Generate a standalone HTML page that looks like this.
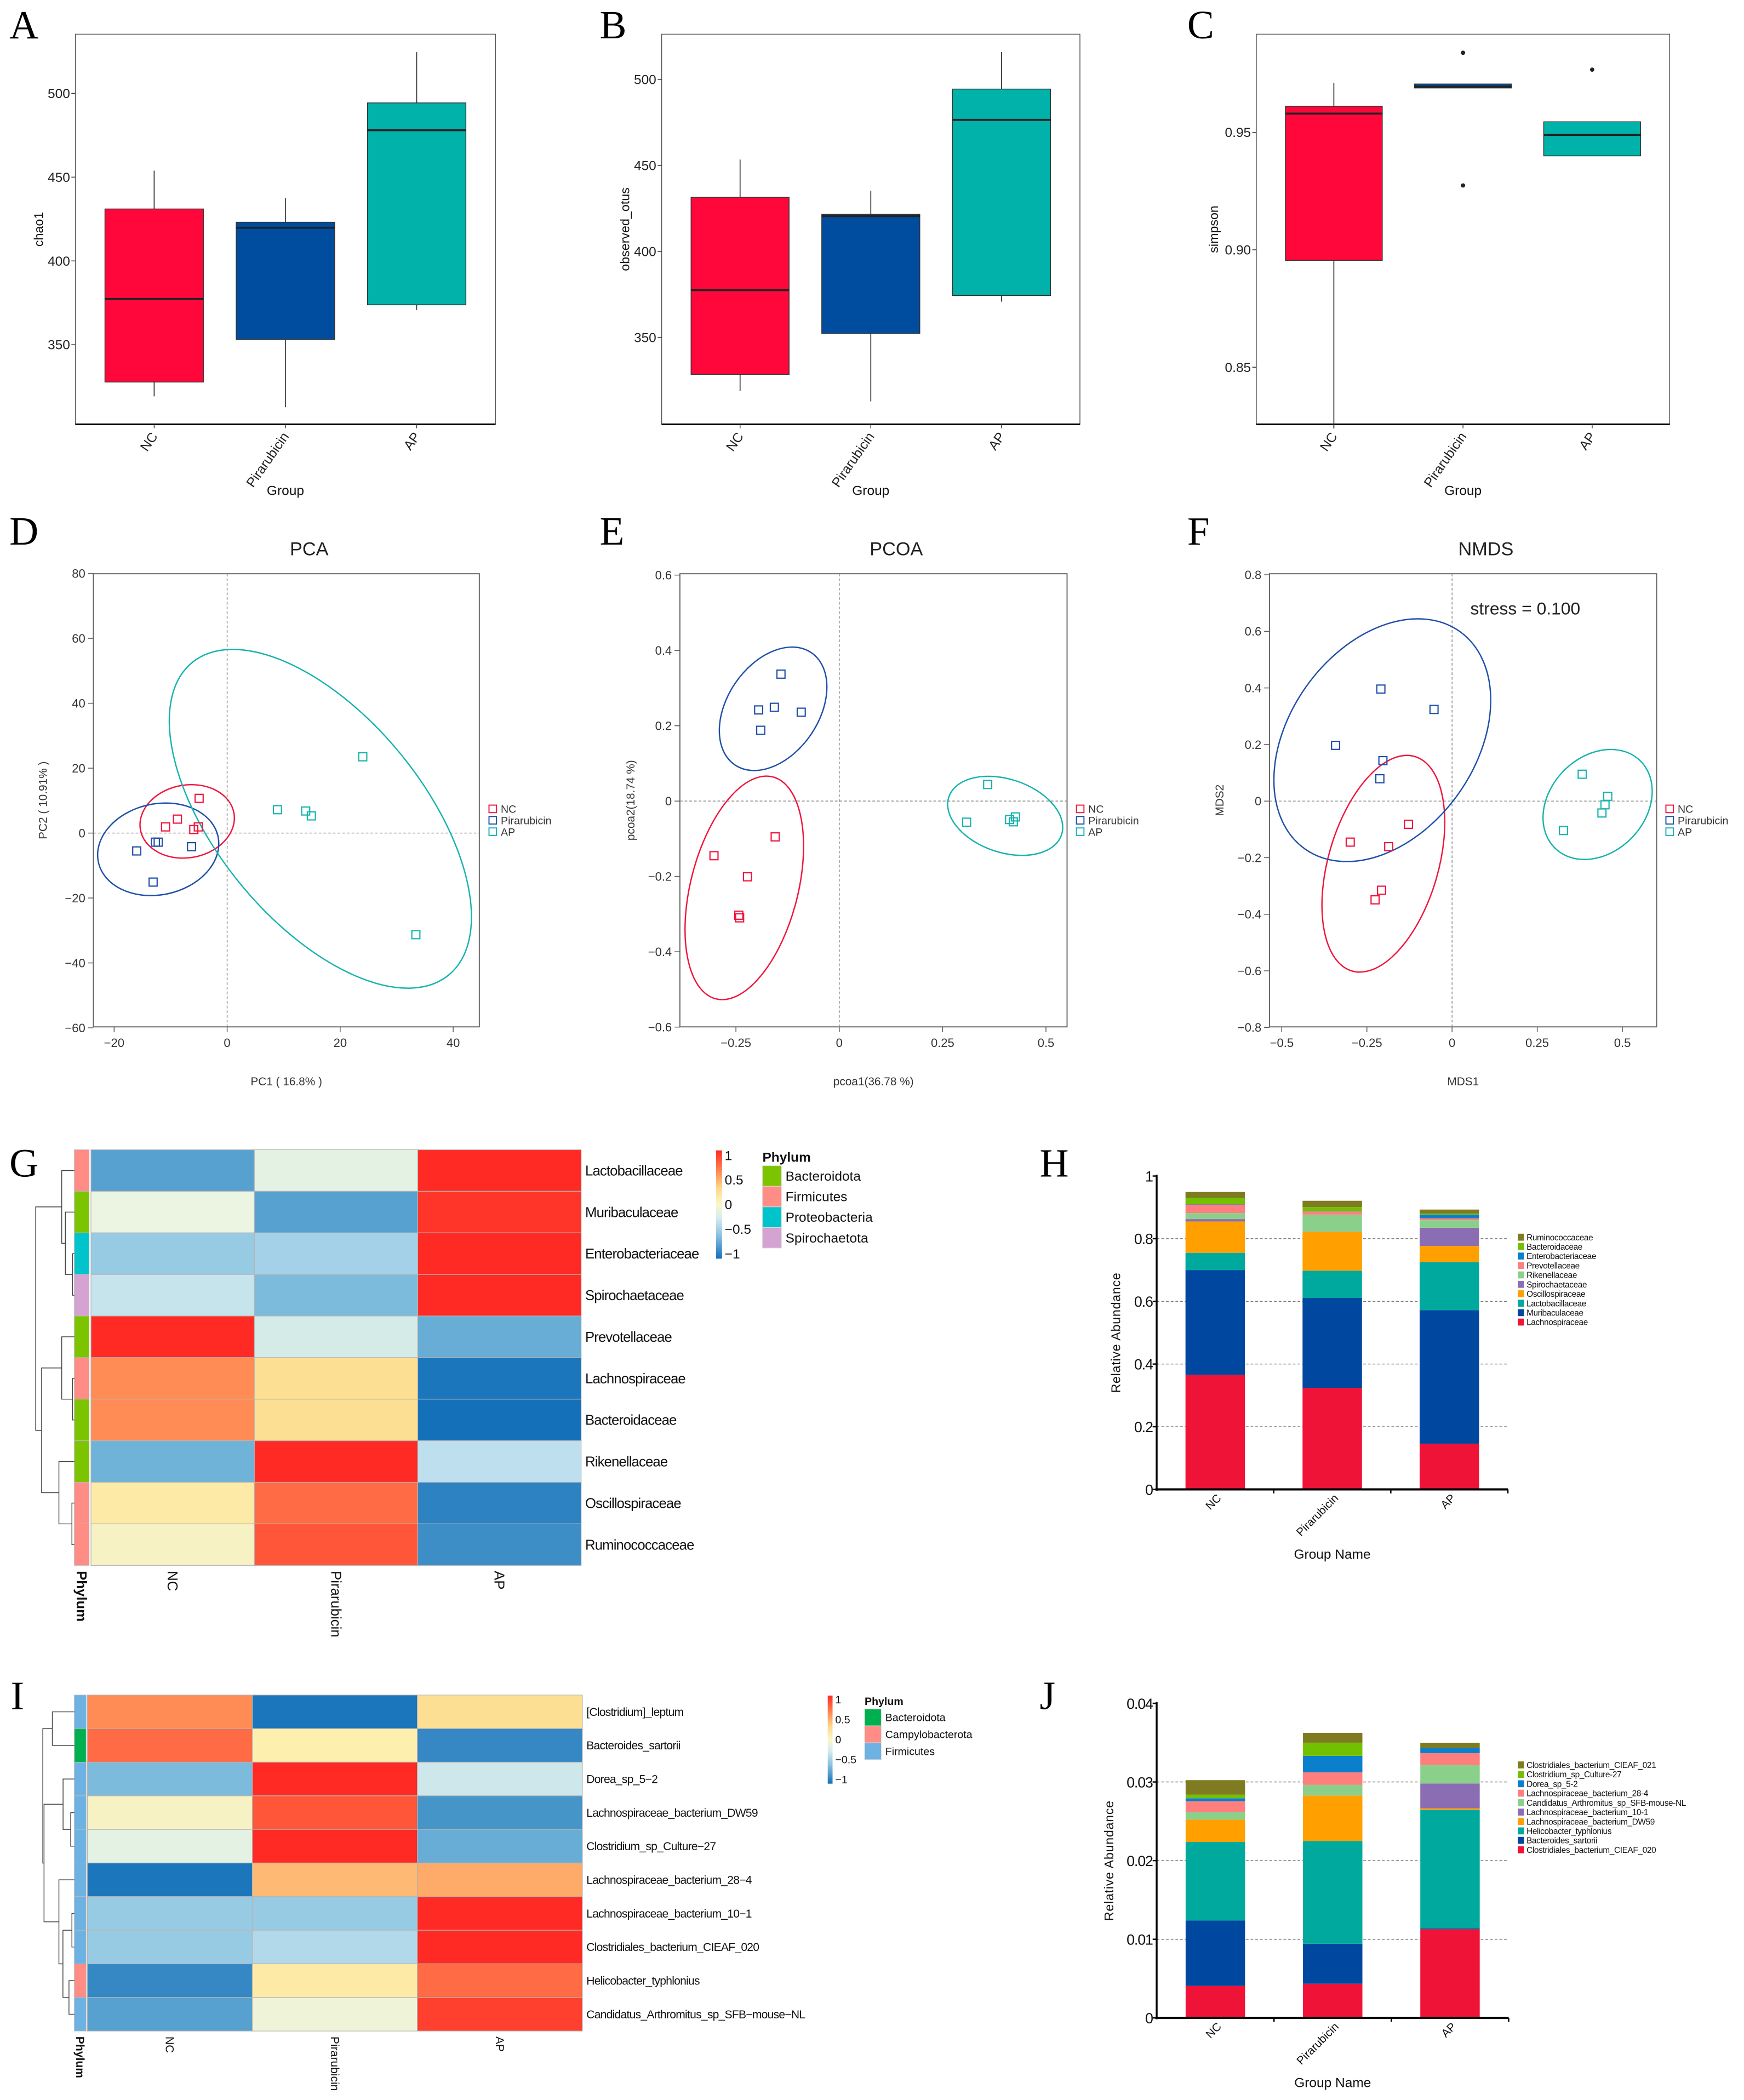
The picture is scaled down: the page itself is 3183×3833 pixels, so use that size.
<!DOCTYPE html>
<html><head><meta charset="utf-8"><title>Figure</title>
<style>
html,body{margin:0;padding:0;background:#fff;}
svg{display:block;font-family:"Liberation Sans",Arial,sans-serif;}
</style></head>
<body>
<svg id="fig" xmlns="http://www.w3.org/2000/svg" width="3183" height="3833" viewBox="0 0 1300 1565.5">
<defs>
<linearGradient id="cbar" x1="0" y1="0" x2="0" y2="1">
<stop offset="0" stop-color="#ff2a24"/><stop offset="0.2" stop-color="#ff8c55"/><stop offset="0.35" stop-color="#fdd98a"/><stop offset="0.5" stop-color="#fbf7c8"/><stop offset="0.62" stop-color="#d8edf0"/><stop offset="0.78" stop-color="#8cc4e0"/><stop offset="1" stop-color="#1470b8"/>
</linearGradient>
</defs>
<rect x="0" y="0" width="1300" height="1565.5" fill="#fff"/>
</svg>
<script>
// ---------------- DATA ----------------
const groups = ['NC','Pirarubicin','AP'];
// A: chao1
const chaoQ1 = [327.7, 353.1, 373.8];
const chaoMed = [377.3, 419.8, 478.0];
const chaoQ3 = [431.0, 423.1, 494.3];
const chaoLo = [319.2, 312.7, 370.7];
const chaoHi = [453.9, 437.4, 524.6];
const chaoTicks = [350, 400, 450, 500];
// B: observed_otus
const otuQ1 = [328.5, 352.3, 374.4];
const otuMed = [377.5, 420.5, 476.5];
const otuQ3 = [431.5, 421.6, 494.4];
const otuLo = [318.8, 312.8, 370.8];
const otuHi = [453.4, 435.3, 516.0];
const otuTicks = [350, 400, 450, 500];
// C: simpson
const simQ1 = [0.8955, 0.9689, 0.9400];
const simMed = [0.9580, 0.9695, 0.9489];
const simQ3 = [0.9611, 0.9706, 0.9545];
const simLo = [0.8239, 0.9689, 0.9400];
const simHi = [0.9711, 0.9706, 0.9545];
const simOutliers = [[], [0.9839, 0.9274], [0.9767]];
const simTicks = [0.85, 0.90, 0.95];

// D: PCA
const pcaNCx = [-4.96, -8.8, -10.9, -5.9, -5.1];
const pcaNCy = [10.7, 4.3, 1.9, 1.1, 1.9];
const pcaPirx = [-16.0, -13.1, -12.7, -12.2, -6.3];
const pcaPiry = [-5.5, -15.1, -2.8, -2.8, -4.2];
const pcaAPx = [24.0, 8.9, 13.9, 14.9, 33.4];
const pcaAPy = [23.5, 7.2, 6.8, 5.3, -31.3];
const pcaXTicks = [-20, 0, 20, 40];
const pcaYTicks = [-60, -40, -20, 0, 20, 40, 60, 80];
const pcaEllCx = [-7.07, -12.2, 16.5];
const pcaEllCy = [3.6, -5.0, 4.4];
// E: PCoA
const pcoNCx = [-0.155, -0.303, -0.222, -0.243, -0.241];
const pcoNCy = [-0.095, -0.145, -0.201, -0.303, -0.310];
const pcoPirx = [-0.141, -0.195, -0.157, -0.092, -0.190];
const pcoPiry = [0.337, 0.242, 0.249, 0.236, 0.188];
const pcoAPx = [0.359, 0.308, 0.412, 0.426, 0.421];
const pcoAPy = [0.044, -0.056, -0.049, -0.042, -0.055];
const pcoXTicks = [-0.25, 0, 0.25, 0.5];
const pcoYTicks = [-0.6, -0.4, -0.2, 0, 0.2, 0.4, 0.6];
const pcoEllCx = [-0.2297, -0.160, 0.4014];
const pcoEllCy = [-0.2304, 0.245, -0.0392];
// F: NMDS
const nmNCx = [-0.128, -0.299, -0.186, -0.207, -0.226];
const nmNCy = [-0.082, -0.145, -0.161, -0.315, -0.349];
const nmPirx = [-0.209, -0.053, -0.342, -0.203, -0.212];
const nmPiry = [0.396, 0.324, 0.197, 0.143, 0.079];
const nmAPx = [0.382, 0.457, 0.449, 0.440, 0.327];
const nmAPy = [0.095, 0.017, -0.013, -0.042, -0.104];
const nmXTicks = [-0.5, -0.25, 0, 0.25, 0.5];
const nmYTicks = [-0.8, -0.6, -0.4, -0.2, 0, 0.2, 0.4, 0.6, 0.8];
const nmEllCx = [-0.2017, -0.2048, 0.4273];
const nmEllCy = [-0.2214, 0.2153, -0.0119];

// G heatmap
const gRows = ['Lactobacillaceae','Muribaculaceae','Enterobacteriaceae','Spirochaetaceae','Prevotellaceae','Lachnospiraceae','Bacteroidaceae','Rikenellaceae','Oscillospiraceae','Ruminococcaceae'];
const gPhylum = ['Firmicutes','Bacteroidota','Proteobacteria','Spirochaetota','Bacteroidota','Firmicutes','Bacteroidota','Bacteroidota','Firmicutes','Firmicutes'];
const gNC  = [-0.75, 0.0, -0.45, -0.25, 1.15, 0.7, 0.7, -0.6, 0.3, 0.15];
const gPir = [-0.05, -0.75, -0.4, -0.55, -0.15, 0.4, 0.4, 1.15, 0.85, 0.95];
const gAP  = [1.15, 1.1, 1.15, 1.15, -0.65, -1.1, -1.15, -0.3, -1.0, -0.9];
const gPhylaLegend = ['Bacteroidota','Firmicutes','Proteobacteria','Spirochaetota'];
// I heatmap
const iRows = ['[Clostridium]_leptum','Bacteroides_sartorii','Dorea_sp_5\u22122','Lachnospiraceae_bacterium_DW59','Clostridium_sp_Culture\u221227','Lachnospiraceae_bacterium_28\u22124','Lachnospiraceae_bacterium_10\u22121','Clostridiales_bacterium_CIEAF_020','Helicobacter_typhlonius','Candidatus_Arthromitus_sp_SFB\u2212mouse\u2212NL'];
const iPhylum = ['Firmicutes','Bacteroidota','Firmicutes','Firmicutes','Firmicutes','Firmicutes','Firmicutes','Firmicutes','Campylobacterota','Firmicutes'];
const iNC  = [0.7, 0.85, -0.55, 0.15, -0.05, -1.1, -0.45, -0.45, -0.95, -0.75];
const iPir = [-1.1, 0.25, 1.15, 0.95, 1.15, 0.55, -0.45, -0.35, 0.3, 0.05];
const iAP  = [0.4, -0.95, -0.2, -0.85, -0.65, 0.6, 1.15, 1.15, 0.85, 1.05];
const iPhylaLegend = ['Bacteroidota','Campylobacterota','Firmicutes'];
const heatTickLabels = ['1','0.5','0','\u22120.5','\u22121'];
const heatTickValues = [1, 0.5, 0, -0.5, -1];

// H stacked bars (bottom -> top)
const hSeries = ['Lachnospiraceae','Muribaculaceae','Lactobacillaceae','Oscillospiraceae','Spirochaetaceae','Rikenellaceae','Prevotellaceae','Enterobacteriaceae','Bacteroidaceae','Ruminococcaceae'];
const hLachno = [0.365, 0.324, 0.146];
const hMurib = [0.335, 0.287, 0.426];
const hLacto = [0.055, 0.087, 0.153];
const hOscillo = [0.100, 0.124, 0.052];
const hSpiro = [0.0076, 0.001, 0.058];
const hRiken = [0.019, 0.054, 0.024];
const hPrevo = [0.0275, 0.010, 0.006];
const hEntero = [0.001, 0.001, 0.012];
const hBacteroid = [0.020, 0.013, 0.003];
const hRumino = [0.019, 0.020, 0.013];
const hTicks = [0, 0.2, 0.4, 0.6, 0.8, 1];
const hTickLabels = ['0','0.2','0.4','0.6','0.8','1'];
// J stacked bars (bottom -> top)
const jSeries = ['Clostridiales_bacterium_CIEAF_020','Bacteroides_sartorii','Helicobacter_typhlonius','Lachnospiraceae_bacterium_DW59','Lachnospiraceae_bacterium_10-1','Candidatus_Arthromitus_sp_SFB-mouse-NL','Lachnospiraceae_bacterium_28-4','Dorea_sp_5-2','Clostridium_sp_Culture-27','Clostridiales_bacterium_CIEAF_021'];
const j020 = [0.00407, 0.00435, 0.01127];
const jSart = [0.00831, 0.00508, 0.00010];
const jHelico = [0.00999, 0.01307, 0.01506];
const jDW59 = [0.00285, 0.00578, 0.00021];
const j101 = [0.0, 0.0, 0.00317];
const jCand = [0.00094, 0.00135, 0.00233];
const j284 = [0.00139, 0.00160, 0.00153];
const jDorea = [0.00038, 0.00209, 0.00066];
const jCult = [0.00045, 0.00167, 0.0];
const j021 = [0.00185, 0.00125, 0.00066];
const jTicks = [0, 0.01, 0.02, 0.03, 0.04];
const jTickLabels = ['0','0.01','0.02','0.03','0.04'];

// ---------------- HELPERS ----------------
const NS = 'http://www.w3.org/2000/svg';
const svg = document.getElementById('fig');
function mk(tag, attrs, parent) {
  const e = document.createElementNS(NS, tag);
  for (const k in attrs) e.setAttribute(k, attrs[k]);
  (parent || svg).appendChild(e);
  return e;
}
function txt(s, attrs, parent) { const e = mk('text', attrs, parent); e.textContent = s; return e; }
function lin(d0, d1, r0, r1) { return v => r0 + (v - d0) * (r1 - r0) / (d1 - d0); }
const grpColor = ['#FF073A', '#004DA0', '#00B2AA'];
const ptColor = ['#F0143C', '#1F4FA8', '#16B3AE'];
function fmtMinus(v) { return (v < 0 ? '\u2212' : '') + Math.abs(v); }

// ---------------- PANEL LETTERS ----------------
const letters = [['A',7,28.5],['B',447,28.5],['C',885,28.5],['D',7,406],['E',447,406],['F',885,406],['G',7,877],['H',775,877],['I',8,1274],['J',775,1274]];
letters.forEach(l => {
  const t = txt(l[0], {x:l[1], y:l[2], 'font-family':'"Liberation Serif",serif', 'font-size':30, fill:'#000'});
  
  
});

// ---------------- BOX PLOTS ----------------
function boxPanel(cfg) {
  const g = mk('g', {});
  
  
  const W = cfg.x1 - cfg.x0;
  const y = lin(cfg.dom[0], cfg.dom[1], cfg.y1, cfg.y0);
  const fr = mk('rect', {x:cfg.x0, y:cfg.y0, width:W, height:cfg.y1-cfg.y0, fill:'none', stroke:'#555', 'stroke-width':0.6}, g);
  
  
  const ax = mk('line', {x1:cfg.x0, x2:cfg.x1, y1:cfg.y1, y2:cfg.y1, stroke:'#000', 'stroke-width':1.2}, g);
  
  
  cfg.ticks.forEach(v => {
    const tk = mk('line', {x1:cfg.x0-3, x2:cfg.x0, y1:y(v), y2:y(v), stroke:'#333', 'stroke-width':0.6}, g);
    
    
    const tl = txt(cfg.fmt(v), {x:cfg.x0-4, y:y(v)+3.5, 'text-anchor':'end', 'font-size':10, fill:'#222'}, g);
    
    
  });
  groups.forEach((name, i) => {
    const cx = cfg.x0 + W * (0.6 + i) / 3.2;
    const bw = 0.75 * W / 3.2;
    const w1 = mk('line', {x1:cx, x2:cx, y1:y(cfg.hi[i]), y2:y(cfg.q3[i]), stroke:'#333', 'stroke-width':0.7}, g);
    
    
    const w2 = mk('line', {x1:cx, x2:cx, y1:y(cfg.q1[i]), y2:y(cfg.lo[i]), stroke:'#333', 'stroke-width':0.7}, g);
    
    
    const b = mk('rect', {x:cx-bw/2, y:y(cfg.q3[i]), width:bw, height:Math.max(1.5, y(cfg.q1[i])-y(cfg.q3[i])), fill:grpColor[i], stroke:'#333', 'stroke-width':0.6}, g);
    
    
    const md = mk('line', {x1:cx-bw/2, x2:cx+bw/2, y1:y(cfg.med[i]), y2:y(cfg.med[i]), stroke:'#222', 'stroke-width':1.5}, g);
    
    
    (cfg.out ? cfg.out[i] : []).forEach(o => {
      const c = mk('circle', {cx:cx, cy:y(o), r:1.6, fill:'#222'}, g);
      
      
    });
    const xt = mk('line', {x1:cx, x2:cx, y1:cfg.y1, y2:cfg.y1+3, stroke:'#333', 'stroke-width':0.6}, g);
    
    
    const xl = txt(name, {x:cx+3, y:cfg.y1+9, 'text-anchor':'end', 'font-size':10, fill:'#222', transform:'rotate(-55 '+(cx+3)+' '+(cfg.y1+9)+')'}, g);
    
    
  });
  const xt = txt('Group', {x:(cfg.x0+cfg.x1)/2, y:369, 'text-anchor':'middle', 'font-size':10, fill:'#111'}, g);
  
  
  const yc = (cfg.y0+cfg.y1)/2;
  const yt = txt(cfg.ytitle, {x:cfg.ytx, y:yc, 'text-anchor':'middle', 'font-size':9.5, fill:'#111', transform:'rotate(-90 '+cfg.ytx+' '+yc+')'}, g);
  
  
}
boxPanel({name:'panel-a-chao1-boxplot', x0:56.2, x1:369.3, y0:25.5, y1:316.3, dom:[302.5,535.3], ticks:chaoTicks, fmt:v=>String(v), q1:chaoQ1, med:chaoMed, q3:chaoQ3, lo:chaoLo, hi:chaoHi, ytitle:'chao1', ytx:32});
boxPanel({name:'panel-b-otus-boxplot', x0:493.2, x1:805, y0:25.5, y1:316.3, dom:[299.5,526.3], ticks:otuTicks, fmt:v=>String(v), q1:otuQ1, med:otuMed, q3:otuQ3, lo:otuLo, hi:otuHi, ytitle:'observed_otus', ytx:469});
boxPanel({name:'panel-c-simpson-boxplot', x0:936.5, x1:1244.6, y0:25.5, y1:316.3, dom:[0.8257,0.9918], ticks:simTicks, fmt:v=>v.toFixed(2), q1:simQ1, med:simMed, q3:simQ3, lo:simLo, hi:simHi, out:simOutliers, ytitle:'simpson', ytx:908});

// ---------------- SCATTER PANELS ----------------
function scatterPanel(cfg) {
  const g = mk('g', {});
  
  
  const x = lin(cfg.xd[0], cfg.xd[1], cfg.x0, cfg.x1);
  const y = lin(cfg.yd[0], cfg.yd[1], cfg.y1, cfg.y0);
  const cxm = (cfg.x0 + cfg.x1) / 2;
  const tt = txt(cfg.title, {x:cxm+17, y:414, 'text-anchor':'middle', 'font-size':14, fill:'#222'}, g);
  
  
  const fr = mk('rect', {x:cfg.x0, y:cfg.y0, width:cfg.x1-cfg.x0, height:cfg.y1-cfg.y0, fill:'none', stroke:'#666', 'stroke-width':0.8}, g);
  
  
  const zx = mk('line', {x1:x(0), x2:x(0), y1:cfg.y0, y2:cfg.y1, stroke:'#888', 'stroke-width':0.6, 'stroke-dasharray':'2,1.5'}, g);
  
  
  const zy = mk('line', {x1:cfg.x0, x2:cfg.x1, y1:y(0), y2:y(0), stroke:'#888', 'stroke-width':0.6, 'stroke-dasharray':'2,1.5'}, g);
  
  
  cfg.xt.forEach(v => {
    const tk = mk('line', {x1:x(v), x2:x(v), y1:cfg.y1, y2:cfg.y1+4, stroke:'#555', 'stroke-width':0.6}, g);
    
    
    const tl = txt(fmtMinus(v), {x:x(v), y:cfg.y1+15, 'text-anchor':'middle', 'font-size':9, fill:'#333'}, g);
    
    
  });
  cfg.yt.forEach(v => {
    const tk = mk('line', {x1:cfg.x0-4, x2:cfg.x0, y1:y(v), y2:y(v), stroke:'#555', 'stroke-width':0.6}, g);
    
    
    const tl = txt(fmtMinus(v), {x:cfg.x0-6, y:y(v)+3.2, 'text-anchor':'end', 'font-size':9, fill:'#333'}, g);
    
    
  });
  const xa = txt(cfg.xtitle, {x:cxm, y:809, 'text-anchor':'middle', 'font-size':8.5, fill:'#333'}, g);
  
  
  const yc = (cfg.y0+cfg.y1)/2;
  const ya = txt(cfg.ytitle, {x:cfg.ytx, y:yc, 'text-anchor':'middle', 'font-size':8.5, fill:'#333', transform:'rotate(-90 '+cfg.ytx+' '+yc+')'}, g);
  
  
  cfg.ell.forEach((e, i) => {
    const ex = x(cfg.ecx[i]), ey = y(cfg.ecy[i]);
    const el = mk('ellipse', {cx:ex, cy:ey, rx:e[0], ry:e[1], transform:'rotate('+e[2]+' '+ex+' '+ey+')', fill:'none', stroke:ptColor[i], 'stroke-width':1}, g);
    
    
  });
  cfg.pts.forEach((s, i) => {
    s[0].forEach((vx, k) => {
      const r = mk('rect', {x:x(vx)-3, y:y(s[1][k])-3, width:6, height:6, fill:'none', stroke:ptColor[i], 'stroke-width':0.9}, g);
      
      
    });
  });
  groups.forEach((name, i) => {
    const ly = 603 + i * 8.5;
    const sq = mk('rect', {x:cfg.lx-2.8, y:ly-2.8, width:5.6, height:5.6, fill:'none', stroke:ptColor[i], 'stroke-width':0.8}, g);
    
    
    const lt = txt(name, {x:cfg.lx+6, y:ly+3, 'font-size':8, fill:'#333'}, g);
    
    
  });
  if (cfg.note) {
    const nt = txt(cfg.note, {x:cfg.noteX, y:458, 'font-size':13, fill:'#222'}, g);
    
    
  }
}
scatterPanel({name:'panel-d-pca', title:'PCA', x0:69.6, x1:357.3, y0:427.7, y1:765.5, xd:[-23.67,44.63], yd:[-59.7,79.9], xt:pcaXTicks, yt:pcaYTicks,
  xtitle:'PC1 ( 16.8% )', ytitle:'PC2 ( 10.91% )', ytx:35, lx:367.3,
  pts:[[pcaNCx,pcaNCy],[pcaPirx,pcaPiry],[pcaAPx,pcaAPy]], ecx:pcaEllCx, ecy:pcaEllCy,
  ell:[[35.4,27.1,-10],[45.6,33.9,-12],[150.7,76.9,50.6]]});
scatterPanel({name:'panel-e-pcoa', title:'PCOA', x0:506.8, x1:795.4, y0:427.7, y1:765.5, xd:[-0.3855,0.551], yd:[-0.5994,0.6036], xt:pcoXTicks, yt:pcoYTicks,
  xtitle:'pcoa1(36.78 %)', ytitle:'pcoa2(18.74 %)', ytx:473, lx:805.2,
  pts:[[pcoNCx,pcoNCy],[pcoPirx,pcoPiry],[pcoAPx,pcoAPy]], ecx:pcoEllCx, ecy:pcoEllCy,
  ell:[[85.4,40,-75.6],[50.6,34.1,-55.7],[44.3,27.3,18.6]]});
scatterPanel({name:'panel-f-nmds', title:'NMDS', x0:946.3, x1:1234.9, y0:427.7, y1:765.5, xd:[-0.536,0.6006], yd:[-0.798,0.8037], xt:nmXTicks, yt:nmYTicks,
  xtitle:'MDS1', ytitle:'MDS2', ytx:912, lx:1244.6, note:'stress = 0.100', noteX:1096,
  pts:[[nmNCx,nmNCy],[nmPirx,nmPiry],[nmAPx,nmAPy]], ecx:nmEllCx, ecy:nmEllCy,
  ell:[[83.3,41,-73.7],[99.5,69.4,-54.5],[45.5,35.6,-45.9]]});

// ---------------- HEATMAPS ----------------
const rampStops = [[-1.15,[20,112,184]],[-0.6,[111,179,216]],[-0.3,[190,224,238]],[0,[236,245,226]],[0.25,[253,240,175]],[0.45,[253,217,138]],[0.7,[255,140,85]],[1.15,[255,42,36]]];
function heatColor(v) {
  if (v <= rampStops[0][0]) return 'rgb('+rampStops[0][1].join(',')+')';
  for (let i = 1; i < rampStops.length; i++) {
    if (v <= rampStops[i][0]) {
      const a = rampStops[i-1], b = rampStops[i], t = (v - a[0]) / (b[0] - a[0]);
      return 'rgb(' + a[1].map((c, k) => Math.round(c + (b[1][k] - c) * t)).join(',') + ')';
    }
  }
  return 'rgb(' + rampStops[rampStops.length-1][1].join(',') + ')';
}
function bracket(g, xj, yA, xA, yB, xB) {
  const p = mk('path', {d:'M'+xA+' '+yA+'H'+xj+'V'+yB+'H'+xB, fill:'none', stroke:'#444', 'stroke-width':0.6}, g);
  
  
  return (yA + yB) / 2;
}
function heatmap(cfg) {
  const g = mk('g', {});
  
  
  const n = cfg.rows.length;
  const rh = (cfg.y1 - cfg.y0) / n;
  const cw = (cfg.x1 - cfg.x0) / 3;
  const cols = [cfg.nc, cfg.pir, cfg.ap];
  cfg.rows.forEach((r, i) => {
    const ry = cfg.y0 + i * rh;
    const ps = mk('rect', {x:cfg.sx0, y:ry, width:cfg.sx1-cfg.sx0, height:rh, fill:cfg.phColors[cfg.phyla[i]], stroke:'#bbb', 'stroke-width':0.4}, g);
    
    
    cols.forEach((arr, j) => {
      const c = mk('rect', {x:cfg.x0 + j*cw, y:ry, width:cw, height:rh, fill:heatColor(arr[i]), stroke:'#b5b5b5', 'stroke-width':0.5}, g);
      
      
    });
    const lb = txt(r, {x:cfg.x1+3, y:ry+rh/2+cfg.fs*0.35, 'font-size':cfg.fs, fill:'#111', 'letter-spacing':cfg.ls}, g);
    
    
  });
  const colNames = ['Phylum'].concat(groups);
  const colX = [(cfg.sx0+cfg.sx1)/2].concat(groups.map((_, j) => cfg.x0 + (j+0.5)*cw));
  colNames.forEach((nm, k) => {
    const cx = colX[k] - cfg.fs*0.35, cy = cfg.y1 + 4;
    const t = txt(nm, {x:cx, y:cy, 'font-size':cfg.fs, fill:'#111', 'font-weight':k===0?'bold':'normal', transform:'rotate(90 '+cx+' '+cy+')'}, g);
    
    
  });
  const cb = mk('rect', {x:cfg.cbx, y:cfg.cby0, width:cfg.cbw, height:cfg.cby1-cfg.cby0, fill:'url(#cbar)'}, g);
  
  
  const cy = lin(-1.1, 1.1, cfg.cby1, cfg.cby0);
  heatTickValues.forEach((v, k) => {
    const t = txt(heatTickLabels[k], {x:cfg.cbx+cfg.cbw+2, y:cy(v)+cfg.cfs*0.35, 'font-size':cfg.cfs, fill:'#111'}, g);
    
    
  });
  const lt = txt('Phylum', {x:cfg.lgx, y:cfg.lgy, 'font-size':cfg.cfs, 'font-weight':'bold', fill:'#111'}, g);
  
  
  cfg.legend.forEach((nm, k) => {
    const yy = cfg.lgy + 3 + k * cfg.lgh;
    const sw = mk('rect', {x:cfg.lgx, y:yy, width:cfg.lgw, height:cfg.lgh, fill:cfg.phColors[nm], stroke:'#ddd', 'stroke-width':0.4}, g);
    
    
    const tl = txt(nm, {x:cfg.lgx+cfg.lgw+3, y:yy+cfg.lgh/2+cfg.cfs*0.35, 'font-size':cfg.cfs, fill:'#111'}, g);
    
    
  });
  return {g:g, rc:i => cfg.y0 + rh*(i+0.5), leaf:cfg.sx0};
}
const hg = heatmap({name:'panel-g-family-heatmap', rows:gRows, phyla:gPhylum, nc:gNC, pir:gPir, ap:gAP, x0:67.8, x1:433.2, y0:857.1, y1:1167, sx0:55.4, sx1:66.4, fs:10.5, ls:-0.35,
  phColors:{Bacteroidota:'#7DC400', Firmicutes:'#FF8C85', Proteobacteria:'#00C4CC', Spirochaetota:'#D4A3D1'},
  cbx:533.8, cbw:4.4, cby0:857.6, cby1:938.3, cfs:10, lgx:568.3, lgy:866, lgw:14.2, lgh:15.35, legend:gPhylaLegend});
(function(){
  const g = hg.g, rc = hg.rc, L = hg.leaf;
  const m23 = bracket(g, 54, rc(2), L, rc(3), L);
  const m1 = bracket(g, 48.7, rc(1), L, m23, 54);
  const mA = bracket(g, 46, rc(0), L, m1, 48.7);
  const m56 = bracket(g, 54, rc(5), L, rc(6), L);
  const mB1 = bracket(g, 46, rc(4), L, m56, 54);
  const m89 = bracket(g, 53.6, rc(8), L, rc(9), L);
  const mB2 = bracket(g, 43.9, rc(7), L, m89, 53.6);
  const mB = bracket(g, 31, mB1, 46, mB2, 43.9);
  bracket(g, 26.6, mA, 46, mB, 31);
})();
const hi = heatmap({name:'panel-i-species-heatmap', rows:iRows, phyla:iPhylum, nc:iNC, pir:iPir, ap:iAP, x0:65.1, x1:434.1, y0:1263.6, y1:1514.1, sx0:55.4, sx1:64.2, fs:8.6, ls:-0.3,
  phColors:{Bacteroidota:'#00B050', Campylobacterota:'#FF8C85', Firmicutes:'#6CB2E2'},
  cbx:617, cbw:3.6, cby0:1264, cby1:1329.7, cfs:8, lgx:644.5, lgy:1271, lgw:12.4, lgh:12.6, legend:iPhylaLegend});
(function(){
  const g = hi.g, rc = hi.rc, L = hi.leaf;
  const m01 = bracket(g, 39, rc(0), L, rc(1), L);
  const m34 = bracket(g, 52.7, rc(3), L, rc(4), L);
  const mC = bracket(g, 47, rc(2), L, m34, 52.7);
  const m67 = bracket(g, 53.6, rc(6), L, rc(7), L);
  const m89 = bracket(g, 51.4, rc(8), L, rc(9), L);
  const mD = bracket(g, 46.9, m67, 53.6, m89, 51.4);
  const mE = bracket(g, 43.9, rc(5), L, mD, 46.9);
  const mR = bracket(g, 32.8, mC, 47, mE, 43.9);
  bracket(g, 31.9, m01, 39, mR, 32.8);
})();

// ---------------- STACKED BARS ----------------
const stackColors = ['#EE1337','#0047A0','#00A99D','#FFA000','#8B6DB3','#8BD08A','#FF7F7F','#0A7FCB','#72C100','#7F7B21'];
function stackPanel(cfg) {
  const g = mk('g', {});
  
  
  const y = lin(0, cfg.ymax, cfg.y0, cfg.ytop);
  const band = (cfg.x1 - cfg.x0) / 3;
  cfg.ticks.forEach((v, k) => {
    if (v > 0 && v < cfg.ymax) {
      const gl = mk('line', {x1:cfg.x0, x2:cfg.x1, y1:y(v), y2:y(v), stroke:'#777', 'stroke-width':0.6, 'stroke-dasharray':'2,1.5'}, g);
      
      
    }
    const tk = mk('line', {x1:cfg.x0-3, x2:cfg.x0, y1:y(v), y2:y(v), stroke:'#000', 'stroke-width':1}, g);
    
    
    const tl = txt(cfg.tickLabels[k], {x:cfg.x0-3, y:y(v)+4, 'text-anchor':'end', 'font-size':11, fill:'#111', 'letter-spacing':-0.5}, g);
    
    
  });
  groups.forEach((name, c) => {
    const cx = cfg.x0 + band * (c + 0.5);
    let acc = 0;
    cfg.series.forEach((arr, s) => {
      const v = arr[c];
      if (v > 0) {
        const r = mk('rect', {x:cx-cfg.bw/2, y:y(acc+v), width:cfg.bw, height:y(acc)-y(acc+v), fill:stackColors[s]}, g);
        
        
      }
      acc += v;
    });
    const xl = txt(name, {x:cx+5, y:cfg.y0+7, 'text-anchor':'end', 'font-size':8.5, fill:'#111', transform:'rotate(-45 '+(cx+5)+' '+(cfg.y0+7)+')'}, g);
    
    
    const tk = mk('line', {x1:cfg.x0+band*(c+1), x2:cfg.x0+band*(c+1), y1:cfg.y0, y2:cfg.y0+3, stroke:'#000', 'stroke-width':1}, g);
    
    
  });
  const ya = mk('line', {x1:cfg.x0, x2:cfg.x0, y1:cfg.ytop-1, y2:cfg.y0+1, stroke:'#000', 'stroke-width':1.4}, g);
  
  
  const xa = mk('line', {x1:cfg.x0-1, x2:cfg.x1, y1:cfg.y0, y2:cfg.y0, stroke:'#000', 'stroke-width':1.6}, g);
  
  
  const yc = (cfg.y0 + cfg.ytop) / 2;
  const yt = txt('Relative Abundance', {x:cfg.ytx, y:yc, 'text-anchor':'middle', 'font-size':9.5, fill:'#111', 'letter-spacing':0.3, transform:'rotate(-90 '+cfg.ytx+' '+yc+')'}, g);
  
  
  const xt = txt('Group Name', {x:(cfg.x0+cfg.x1)/2, y:cfg.xty, 'text-anchor':'middle', 'font-size':10, fill:'#111'}, g);
  
  
  for (let s = cfg.names.length - 1; s >= 0; s--) {
    const k = cfg.names.length - 1 - s;
    const ly = cfg.ly + k * 7.03;
    const sw = mk('rect', {x:cfg.lx, y:ly-2.6, width:4.6, height:5.2, fill:stackColors[s]}, g);
    
    
    const lt = txt(cfg.names[s], {x:cfg.lx+6.5, y:ly+2.3, 'font-size':6.3, fill:'#111', 'letter-spacing':-0.15}, g);
    
    
  }
}
stackPanel({name:'panel-h-family-stacked-bars', x0:862.2, x1:1124, y0:1110.3, ytop:876.7, ymax:1, bw:44.3,
  series:[hLachno,hMurib,hLacto,hOscillo,hSpiro,hRiken,hPrevo,hEntero,hBacteroid,hRumino], names:hSeries,
  ticks:hTicks, tickLabels:hTickLabels, ytx:835, xty:1162, lx:1131.4, ly:922.3});
stackPanel({name:'panel-j-species-stacked-bars', x0:862.2, x1:1124.6, y0:1504.3, ytop:1269.8, ymax:0.04, bw:44.3,
  series:[j020,jSart,jHelico,jDW59,j101,jCand,j284,jDorea,jCult,j021], names:jSeries,
  ticks:jTicks, tickLabels:jTickLabels, ytx:830, xty:1556, lx:1131.4, ly:1315.7});
</script>
</body></html>
